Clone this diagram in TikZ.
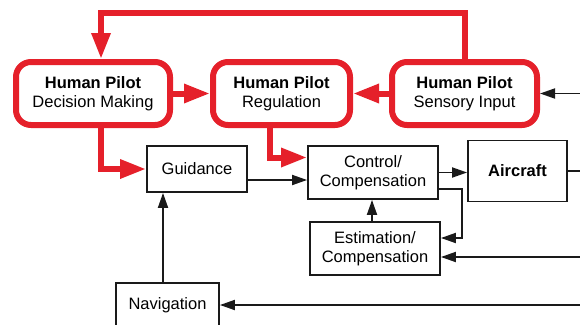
\documentclass[tikz,border=0pt]{standalone}
\usepackage{fontspec}
\setmainfont{Liberation Sans}
\usetikzlibrary{arrows.meta,calc}
\definecolor{pilotred}{HTML}{E5202A}
\definecolor{ink}{HTML}{1A1A1A}
\tikzset{
  pilot/.style={draw=pilotred,line width=6pt,rounded corners=15pt,fill=white,align=center,inner sep=0pt,font=\fontsize{16.5}{19.5}\selectfont},
  blk/.style={draw=ink,line width=1.8pt,fill=white,align=center,inner sep=0pt,font=\fontsize{16.5}{19.5}\selectfont},
  redarr/.style={pilotred,line width=6pt,-{Triangle[length=26pt,width=18pt]}},
  blkarr/.style={ink,line width=1.8pt,-{Triangle[length=15pt,width=10pt]}},
  wire/.style={ink,line width=1.8pt},
}

\begin{document}
\begin{tikzpicture}[x=1pt,y=-1pt]
  \clip (0,0) rectangle (580,324);
  % pilot blocks
  \node[pilot,minimum width=154pt,minimum height=63pt] (decide) at (93,93.5) {\textbf{Human Pilot}\\Decision Making};
  \node[pilot,minimum width=137pt,minimum height=63pt] (regul) at (281.5,93.5) {\textbf{Human Pilot}\\Regulation};
  \node[pilot,minimum width=145pt,minimum height=63pt] (sense) at (464.5,93.5) {\textbf{Human Pilot}\\Sensory Input};
  % system blocks
  \node[blk,minimum width=100pt,minimum height=46pt] (guide) at (197,169) {Guidance};
  \node[blk,minimum width=130pt,minimum height=53pt] (ctrl) at (373,172.5) {Control/\\Compensation};
  \node[blk,minimum width=99pt,minimum height=61pt] (plane) at (517.5,171) {\textbf{Aircraft}};
  \node[blk,minimum width=130pt,minimum height=53pt] (estim) at (375,248.5) {Estimation/\\Compensation};
  \node[blk,minimum width=103pt,minimum height=44pt] (navig) at (167.5,305) {Navigation};
  % free ends at the right margin
  \coordinate (inSense) at (580,93.5);
  \coordinate (outPlane) at (580,171);
  \coordinate (inEst) at (580,257);
  \coordinate (inNav) at (580,305);
  \coordinate (loopL) at (101,13);
  \coordinate (regDown) at (270,0);
  % red paths
  \draw[redarr] (decide.east) -- (regul.west);
  \draw[redarr] (sense.west) -- (regul.east);
  \draw[redarr] (sense.north) |- (loopL) -- (loopL |- decide.north);
  \draw[redarr] (loopL |- decide.south) |- (guide.west);
  \draw[redarr] (regDown |- regul.south) |- ($(ctrl.west)+(0,-15)$);
  % black paths
  \coordinate (g1) at ($(guide.east)+(0,11)$);
  \draw[blkarr] (g1) -- (g1 -| ctrl.west);
  \draw[blkarr] (ctrl.east) -- (ctrl.east -| plane.west);
  \coordinate (c1) at ($(ctrl.east)+(0,16.5)$);
  \coordinate (e1) at ($(estim.east)+(0,-10.5)$);
  \draw[blkarr] (c1) -- ++(23,0) |- (e1);
  \draw[blkarr] ($(estim.north)+(-3,0)$) -- ($(ctrl.south)+(-1,0)$);
  \coordinate (n1) at ($(navig.north)+(-4.5,0)$);
  \draw[blkarr] (n1) -- (n1 |- guide.south);
  \draw[wire] (plane.east) -- (outPlane);
  \draw[blkarr] (inSense) -- (sense.east);
  \draw[blkarr] (inEst) -- (inEst -| estim.east);
  \draw[blkarr] (inNav) -- (navig.east);
\end{tikzpicture}
\end{document}
